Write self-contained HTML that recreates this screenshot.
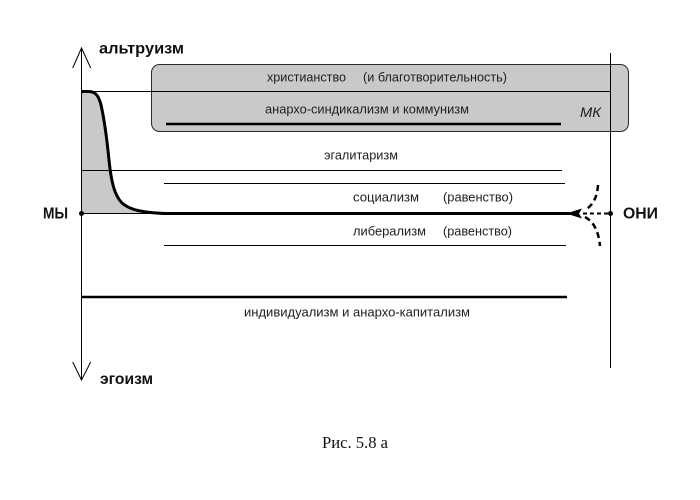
<!DOCTYPE html>
<html>
<head>
<meta charset="utf-8">
<style>
html,body{margin:0;padding:0;background:#fff;}
body{width:700px;height:500px;overflow:hidden;}
svg{display:block;}
.r{font-family:"Liberation Sans",Arial,sans-serif;font-size:13px;fill:#1e1e1e;}
.b{font-family:"Liberation Sans",Arial,sans-serif;font-size:16px;font-weight:bold;fill:#111;}
</style>
</head>
<body>
<svg width="700" height="500" viewBox="0 0 700 500" xmlns="http://www.w3.org/2000/svg">
  <rect x="0" y="0" width="700" height="500" fill="#fff"/>

  <!-- grey rounded box -->
  <rect x="151.5" y="64.5" width="477" height="67" rx="8" ry="8" fill="#c9c9c9" stroke="#2a2a2a" stroke-width="1"/>

  <!-- shaded area under curve -->
  <path d="M81.5,91.5 L89,91.5 C96,91.5 99,97 101,105 C104,118 107,140 109,160 C111,180 114,195 122,203 C130,210 142,212.5 165,213.5 L81.5,213.5 Z" fill="#c9c9c9"/>

  <!-- thin horizontal lines -->
  <line x1="81" y1="91.5" x2="611" y2="91.5" stroke="#000" stroke-width="1"/>
  <line x1="81" y1="170.5" x2="562" y2="170.5" stroke="#000" stroke-width="1"/>
  <line x1="164" y1="183.5" x2="565" y2="183.5" stroke="#000" stroke-width="1"/>
  <line x1="164" y1="245.5" x2="566" y2="245.5" stroke="#000" stroke-width="1"/>
  <line x1="81" y1="213.5" x2="165" y2="213.5" stroke="#000" stroke-width="1"/>

  <!-- thick lines -->
  <line x1="166" y1="124" x2="561" y2="124" stroke="#000" stroke-width="2.5"/>
  <line x1="81" y1="297" x2="567" y2="297" stroke="#000" stroke-width="2.5"/>

  <!-- curve + main thick line -->
  <path d="M81.5,91.5 L89,91.5 C96,91.5 99,97 101,105 C104,118 107,140 109,160 C111,180 114,195 122,203 C130,210 142,212.5 165,213.5 L570,213.5" fill="none" stroke="#000" stroke-width="3"/>

  <!-- vertical axis -->
  <line x1="81.5" y1="48" x2="81.5" y2="380" stroke="#000" stroke-width="1"/>
  <polyline points="72.7,68 81.5,48 90.7,68" fill="none" stroke="#000" stroke-width="1"/>
  <polyline points="72.7,362 81.5,380 90.7,362" fill="none" stroke="#000" stroke-width="1"/>

  <!-- right vertical line -->
  <line x1="610.5" y1="53" x2="610.5" y2="368" stroke="#000" stroke-width="1"/>

  <!-- dots -->
  <circle cx="81.5" cy="213.5" r="2.5" fill="#000"/>
  <circle cx="610.5" cy="213.5" r="2.5" fill="#000"/>

  <!-- arrowhead at right -->
  <polygon points="566,213.5 582,208.5 579,213.5 582,218.5" fill="#000"/>
  <line x1="583" y1="213.5" x2="608" y2="213.5" stroke="#000" stroke-width="2" stroke-dasharray="4,3"/>
  <path d="M598,185 Q597,203 585,210" fill="none" stroke="#000" stroke-width="2.5" stroke-dasharray="6,4"/>
  <path d="M585,217 Q598,224 600,246" fill="none" stroke="#000" stroke-width="2.5" stroke-dasharray="6,4"/>

  <!-- bold labels -->
  <text class="b" x="99" y="53.5" textLength="85" lengthAdjust="spacingAndGlyphs">альтруизм</text>
  <text class="b" x="43" y="218.5" textLength="25" lengthAdjust="spacingAndGlyphs">МЫ</text>
  <text class="b" x="623" y="218.5" textLength="35" lengthAdjust="spacingAndGlyphs">ОНИ</text>
  <text class="b" x="100" y="384" textLength="53" lengthAdjust="spacingAndGlyphs">эгоизм</text>

  <!-- regular labels -->
  <text class="r" x="267" y="81.5" textLength="79" lengthAdjust="spacingAndGlyphs">христианство</text>
  <text class="r" x="363" y="81.5" textLength="144" lengthAdjust="spacingAndGlyphs">(и благотворительность)</text>
  <text class="r" x="265" y="113.5" textLength="204" lengthAdjust="spacingAndGlyphs">анархо-синдикализм и коммунизм</text>
  <text x="580" y="117" font-family="Liberation Sans, Arial, sans-serif" font-size="14" font-style="italic" fill="#1e1e1e" textLength="21" lengthAdjust="spacingAndGlyphs">МК</text>

  <text class="r" x="324" y="159.5" textLength="74" lengthAdjust="spacingAndGlyphs">эгалитаризм</text>
  <text class="r" x="353" y="201.5" textLength="66" lengthAdjust="spacingAndGlyphs">социализм</text>
  <text class="r" x="443" y="201.5" textLength="70" lengthAdjust="spacingAndGlyphs">(равенство)</text>
  <text class="r" x="353" y="235.5" textLength="73" lengthAdjust="spacingAndGlyphs">либерализм</text>
  <text class="r" x="443" y="235.5" textLength="69" lengthAdjust="spacingAndGlyphs">(равенство)</text>
  <text class="r" x="244" y="316.5" textLength="226" lengthAdjust="spacingAndGlyphs">индивидуализм и анархо-капитализм</text>

  <!-- caption -->
  <text x="322" y="448" font-family="Liberation Serif, 'Times New Roman', serif" font-size="17" fill="#111" textLength="66" lengthAdjust="spacingAndGlyphs">Рис. 5.8 а</text>
</svg>
</body>
</html>
